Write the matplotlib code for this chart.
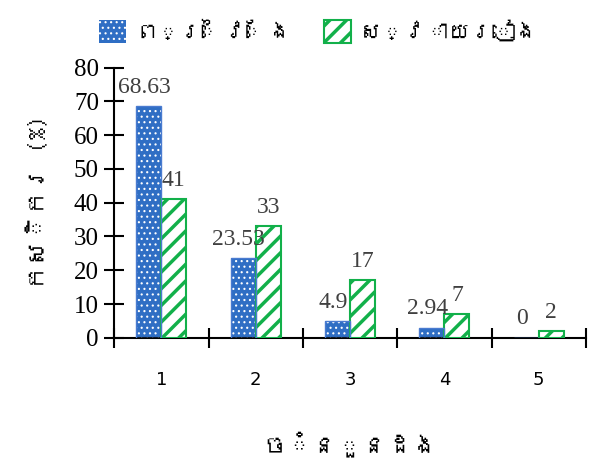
import matplotlib
matplotlib.use('Agg')
import matplotlib.pyplot as plt
from matplotlib import font_manager
from matplotlib.patches import Patch
import numpy as np

# Data
categories = ['1', '2', '3', '4', '5']
prey_veng = [68.63, 23.53, 4.9, 2.94, 0]
svay_rieng = [41, 33, 17, 7, 2]
series_names = ['ព្រៃវែង', 'ស្វាយរៀង']
x_title = 'ចំនួនដង'
y_title = 'កសិករ (%)'
y_ticks = [0, 10, 20, 30, 40, 50, 60, 70, 80]


def find_khmer_font():
    # look for any installed font that has Khmer glyphs
    from matplotlib.ft2font import FT2Font
    for path in font_manager.findSystemFonts():
        try:
            f = FT2Font(path)
            if f.get_char_index(0x1780):
                return font_manager.FontProperties(fname=path).get_name()
        except Exception:
            pass
    return None


khmer = find_khmer_font()
khmer_family = [khmer, 'DejaVu Sans'] if khmer else ['DejaVu Sans']
num_family = ['Liberation Serif', 'DejaVu Serif']

fig = plt.figure(figsize=(6.01, 4.66), dpi=100)
ax = fig.add_axes([0.19, 0.275, 0.785, 0.58])

x = np.arange(len(categories))
w = 0.265
blue = '#2F6EC4'
green = '#12B04A'

# blue bars: solid fill, small white dots overlay, edge
with plt.rc_context({'hatch.linewidth': 0.8}):
    ax.bar(x - w / 2, prey_veng, w, color=blue, linewidth=0, zorder=2)
    ax.bar(x - w / 2, prey_veng, w, facecolor='none', edgecolor='white',
           hatch='...', linewidth=0, zorder=3)
    ax.bar(x - w / 2, prey_veng, w, facecolor='none', edgecolor='#4A7BD0',
           linewidth=1, zorder=4)
    h1 = Patch(facecolor=blue, edgecolor='white', hatch='...', linewidth=0)

# green bars: white with thick green diagonal stripes
with plt.rc_context({'hatch.linewidth': 2.5}):
    ax.bar(x + w / 2, svay_rieng, w, facecolor='white', edgecolor=green,
           hatch='//', linewidth=1.5, zorder=3)
    h2 = Patch(facecolor='white', edgecolor=green, hatch='//', linewidth=1.5)

for i in range(len(categories)):
    ax.text(x[i] - w / 2 - 0.05, prey_veng[i] + 2.5, f'{prey_veng[i]:g}',
            ha='center', va='bottom', fontsize=17, color='#404040',
            family=num_family, zorder=5)
    ax.text(x[i] + w / 2, svay_rieng[i] + 2.5, f'{svay_rieng[i]:g}',
            ha='center', va='bottom', fontsize=17, color='#404040',
            family=num_family, zorder=5)

ax.set_xlim(-0.5, len(categories) - 0.5)
ax.set_ylim(0, 80)
ax.set_yticks(y_ticks)
ax.set_yticklabels([str(t) for t in y_ticks], family=num_family, fontsize=18)
ax.set_xticks(np.arange(len(categories) + 1) - 0.5, minor=False)
ax.set_xticklabels([])
ax.set_xticks(x, minor=True)
ax.set_xticklabels(categories, minor=True, fontsize=13)
ax.tick_params(axis='x', which='minor', length=0, pad=24)
ax.tick_params(axis='x', which='major', direction='inout', length=14, width=1.5)
ax.tick_params(axis='y', direction='inout', length=14, width=1.5, pad=4)

for s in ['top', 'right']:
    ax.spines[s].set_visible(False)
for s in ['left', 'bottom']:
    ax.spines[s].set_linewidth(1.5)

ax.set_xlabel(x_title, family=khmer_family, fontsize=18, labelpad=30)
ax.set_ylabel(y_title, family=khmer_family, fontsize=18, labelpad=18)

leg = fig.legend([h1, h2], series_names, loc='upper center', ncol=2,
                 bbox_to_anchor=(0.53, 1.0), frameon=False,
                 prop=font_manager.FontProperties(family=khmer_family, size=16),
                 handlelength=1.2, handleheight=1.2, columnspacing=1.5,
                 handletextpad=0.4)
# the legend makes its own patches, so give the green one thick stripes too
handles = getattr(leg, 'legend_handles', None) or leg.legendHandles
if hasattr(handles[1], 'set_hatch_linewidth'):
    handles[1].set_hatch_linewidth(2.5)
    handles[0].set_hatch_linewidth(0.8)

fig.savefig('out.png', dpi=100)
